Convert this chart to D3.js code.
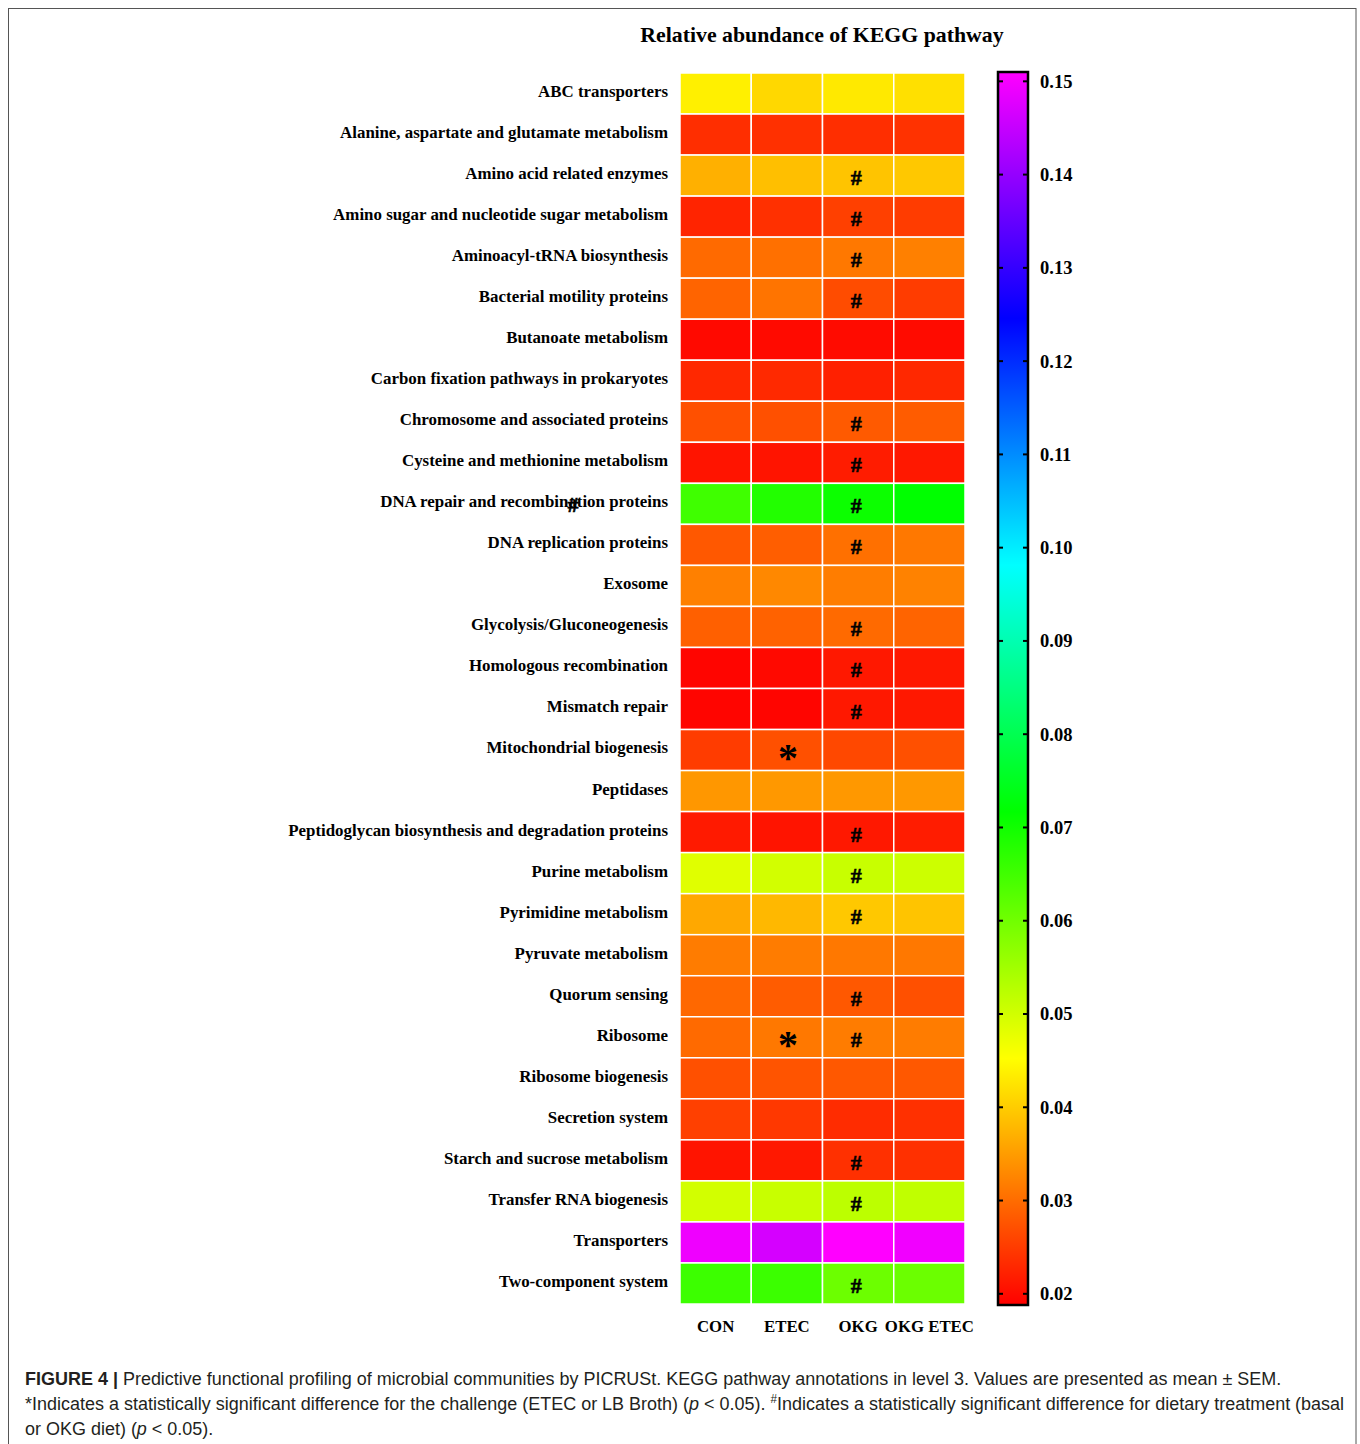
<!DOCTYPE html>
<html>
<head>
<meta charset="utf-8">
<script src="https://cdn.jsdelivr.net/npm/d3@7"></script>
<style>
  html, body { margin: 0; padding: 0; background: #fff; }
  svg { display: block; }
</style>
</head>
<body>
<svg id="fig" width="1360" height="1444"></svg>
<script>
// KEGG level-3 pathways (rows) and treatment groups (columns)
const pathways = [
  "ABC transporters",
  "Alanine, aspartate and glutamate metabolism",
  "Amino acid related enzymes",
  "Amino sugar and nucleotide sugar metabolism",
  "Aminoacyl-tRNA biosynthesis",
  "Bacterial motility proteins",
  "Butanoate metabolism",
  "Carbon fixation pathways in prokaryotes",
  "Chromosome and associated proteins",
  "Cysteine and methionine metabolism",
  "DNA repair and recombination proteins",
  "DNA replication proteins",
  "Exosome",
  "Glycolysis/Gluconeogenesis",
  "Homologous recombination",
  "Mismatch repair",
  "Mitochondrial biogenesis",
  "Peptidases",
  "Peptidoglycan biosynthesis and degradation proteins",
  "Purine metabolism",
  "Pyrimidine metabolism",
  "Pyruvate metabolism",
  "Quorum sensing",
  "Ribosome",
  "Ribosome biogenesis",
  "Secretion system",
  "Starch and sucrose metabolism",
  "Transfer RNA biogenesis",
  "Transporters",
  "Two-component system"
];
const groups = ["CON", "ETEC", "OKG", "OKG ETEC"];

// Mean relative abundance per group, in pathway order
const conValues = [0.0437, 0.0236, 0.0370, 0.0225, 0.0298, 0.0292, 0.0197, 0.0229, 0.0271, 0.0209,
                   0.0651, 0.0279, 0.0321, 0.0288, 0.0193, 0.0193, 0.0250, 0.0345, 0.0215, 0.0485,
                   0.0362, 0.0317, 0.0296, 0.0298, 0.0271, 0.0254, 0.0209, 0.0499, 0.1493, 0.0655];
const etecValues = [0.0412, 0.0238, 0.0386, 0.0238, 0.0304, 0.0308, 0.0198, 0.0230, 0.0271, 0.0209,
                    0.0682, 0.0285, 0.0329, 0.0290, 0.0197, 0.0193, 0.0271, 0.0346, 0.0209, 0.0499,
                    0.0379, 0.0317, 0.0283, 0.0312, 0.0275, 0.0246, 0.0213, 0.0509, 0.1466, 0.0656];
const okgValues = [0.0430, 0.0236, 0.0391, 0.0254, 0.0312, 0.0267, 0.0199, 0.0221, 0.0281, 0.0217,
                   0.0704, 0.0304, 0.0318, 0.0298, 0.0213, 0.0213, 0.0263, 0.0346, 0.0213, 0.0509,
                   0.0395, 0.0312, 0.0279, 0.0317, 0.0279, 0.0234, 0.0238, 0.0522, 0.1510, 0.0605];
const okgEtecValues = [0.0420, 0.0240, 0.0395, 0.0250, 0.0321, 0.0250, 0.0199, 0.0229, 0.0283, 0.0213,
                       0.0717, 0.0312, 0.0323, 0.0292, 0.0213, 0.0213, 0.0271, 0.0346, 0.0217, 0.0505,
                       0.0391, 0.0312, 0.0271, 0.0317, 0.0279, 0.0238, 0.0238, 0.0518, 0.1495, 0.0606];

// Significance marks: "#" diet effect (shown in OKG column), "*" challenge effect (ETEC column)
const dietSigRows = ["Amino acid related enzymes", "Amino sugar and nucleotide sugar metabolism",
  "Aminoacyl-tRNA biosynthesis", "Bacterial motility proteins", "Chromosome and associated proteins",
  "Cysteine and methionine metabolism", "DNA repair and recombination proteins", "DNA replication proteins",
  "Glycolysis/Gluconeogenesis", "Homologous recombination", "Mismatch repair",
  "Peptidoglycan biosynthesis and degradation proteins", "Purine metabolism", "Pyrimidine metabolism",
  "Quorum sensing", "Ribosome", "Starch and sucrose metabolism", "Transfer RNA biogenesis",
  "Two-component system"];
const challengeSigRows = ["Mitochondrial biogenesis", "Ribosome"];

// Colour bar
const colorDomain = [0.0188, 0.151];
const colorTicks = [0.02, 0.03, 0.04, 0.05, 0.06, 0.07, 0.08, 0.09, 0.10, 0.11, 0.12, 0.13, 0.14, 0.15];

const svg = d3.select("#fig");
const serif = "'Liberation Serif', 'Times New Roman', Times, serif";

// Figure frame
svg.append("rect")
  .attr("x", 8.5).attr("y", 8.5).attr("width", 1347.5).attr("height", 1500)
  .attr("fill", "none").attr("stroke", "#555").attr("stroke-width", 1);

// Rainbow colour map: red -> yellow -> green -> cyan -> blue -> magenta
const hue = d3.scaleLinear().domain(colorDomain).range([0, 300]).clamp(true);
const color = v => d3.hsl(hue(v), 1, 0.5).formatHex();

const table = pathways.map((p, i) => ({
  pathway: p,
  values: [conValues[i], etecValues[i], okgValues[i], okgEtecValues[i]]
}));
const cells = [];
table.forEach(r => r.values.forEach((v, j) => cells.push({ pathway: r.pathway, group: groups[j], value: v })));

const x = d3.scaleBand().domain(groups).range([680, 965]).padding(0);
const y = d3.scaleBand().domain(pathways).range([73, 1304]).padding(0);

// Title
svg.append("text")
  .attr("x", 822).attr("y", 42)
  .attr("text-anchor", "middle")
  .attr("font-family", serif).attr("font-weight", "bold").attr("font-size", 21.8)
  .text("Relative abundance of KEGG pathway");

// Heatmap cells
svg.append("g").selectAll("rect").data(cells).join("rect")
  .attr("x", d => x(d.group))
  .attr("y", d => y(d.pathway))
  .attr("width", x.bandwidth())
  .attr("height", y.bandwidth())
  .attr("fill", d => color(d.value))
  .attr("stroke", "#fff").attr("stroke-width", 1.5);

// Row labels
const yAxis = d3.axisLeft(y).tickSize(0).tickPadding(12);
const gy = svg.append("g").attr("transform", "translate(680,-2)").call(yAxis);
gy.select(".domain").remove();
gy.selectAll("text")
  .attr("font-family", serif).attr("font-weight", "bold").attr("font-size", 16.9).attr("fill", "#000");

// Column labels
const xAxis = d3.axisBottom(x).tickSize(0).tickPadding(14);
const gx = svg.append("g").attr("transform", "translate(0,1306)").call(xAxis);
gx.select(".domain").remove();
gx.selectAll("text")
  .attr("font-family", serif).attr("font-weight", "bold").attr("font-size", 16.8).attr("fill", "#000");

// Significance marks
svg.append("g").selectAll("text").data(dietSigRows).join("text")
  .attr("x", x("OKG") + x.bandwidth() / 2 - 2)
  .attr("y", d => y(d) + y.bandwidth() / 2 + 9.5)
  .attr("text-anchor", "middle")
  .attr("font-family", serif).attr("font-weight", "bold").attr("font-size", 22)
  .attr("stroke", "#000").attr("stroke-width", 0.6)
  .text("#");
svg.append("g").selectAll("text").data(challengeSigRows).join("text")
  .attr("x", x("ETEC") + x.bandwidth() / 2 + 1)
  .attr("y", d => y(d) + y.bandwidth() / 2 + 21)
  .attr("text-anchor", "middle")
  .attr("font-family", serif).attr("font-weight", "bold").attr("font-size", 40)
  .text("*");
// stray diet mark sitting over the DNA repair label
svg.append("text")
  .attr("x", 573).attr("y", y("DNA repair and recombination proteins") + y.bandwidth() / 2 + 8)
  .attr("text-anchor", "middle")
  .attr("font-family", serif).attr("font-weight", "bold").attr("font-size", 22)
  .attr("stroke", "#000").attr("stroke-width", 0.6)
  .text("#");

// Colour bar
const cbX = 998, cbW = 30, cbTop = 72, cbBottom = 1305;
const cbY = d3.scaleLinear().domain(colorDomain).range([cbBottom, cbTop]);
const defs = svg.append("defs");
const grad = defs.append("linearGradient").attr("id", "cbGrad")
  .attr("x1", 0).attr("y1", 1).attr("x2", 0).attr("y2", 0);
d3.range(0, 1.0001, 0.02).forEach(t => {
  const v = colorDomain[0] + t * (colorDomain[1] - colorDomain[0]);
  grad.append("stop").attr("offset", t).attr("stop-color", color(v));
});
svg.append("rect")
  .attr("x", cbX).attr("y", cbTop).attr("width", cbW).attr("height", cbBottom - cbTop)
  .attr("fill", "url(#cbGrad)").attr("stroke", "#000").attr("stroke-width", 2.5);

const cbAxis = d3.axisRight(cbY).tickValues(colorTicks).tickFormat(d3.format(".2f")).tickSize(0).tickPadding(12);
const gc = svg.append("g").attr("transform", `translate(${cbX + cbW},0)`).call(cbAxis);
gc.select(".domain").remove();
gc.selectAll("text")
  .attr("font-family", serif).attr("font-weight", "bold").attr("font-size", 18.5).attr("fill", "#000");
const tickG = svg.append("g").attr("stroke", "#000").attr("stroke-width", 2);
colorTicks.forEach(t => {
  tickG.append("line").attr("x1", cbX).attr("x2", cbX + 5).attr("y1", cbY(t)).attr("y2", cbY(t));
  tickG.append("line").attr("x1", cbX + cbW - 5).attr("x2", cbX + cbW).attr("y1", cbY(t)).attr("y2", cbY(t));
});

// Caption (condensed sans, compressed horizontally)
const capFont = "'Liberation Sans', Arial, sans-serif";
const cap = svg.append("g")
  .attr("transform", "translate(25,0) scale(0.972,1)")
  .attr("font-family", capFont).attr("font-size", 18.5).attr("fill", "#231f20");
const l1 = cap.append("text").attr("x", 0).attr("y", 1385);
l1.append("tspan").attr("font-weight", "bold").text("FIGURE 4 | ");
l1.append("tspan").text("Predictive functional profiling of microbial communities by PICRUSt. KEGG pathway annotations in level 3. Values are presented as mean \u00b1 SEM.");
const l2 = cap.append("text").attr("x", 0).attr("y", 1410);
l2.append("tspan").text("*Indicates a statistically significant difference for the challenge (ETEC or LB Broth) (");
l2.append("tspan").attr("font-style", "italic").text("p");
l2.append("tspan").text(" < 0.05). ");
l2.append("tspan").attr("font-size", 12).attr("dy", -7).text("#");
l2.append("tspan").attr("dy", 7).text("Indicates a statistically significant difference for dietary treatment (basal");
const l3 = cap.append("text").attr("x", 0).attr("y", 1435);
l3.append("tspan").text("or OKG diet) (");
l3.append("tspan").attr("font-style", "italic").text("p");
l3.append("tspan").text(" < 0.05).");
</script>
</body>
</html>
